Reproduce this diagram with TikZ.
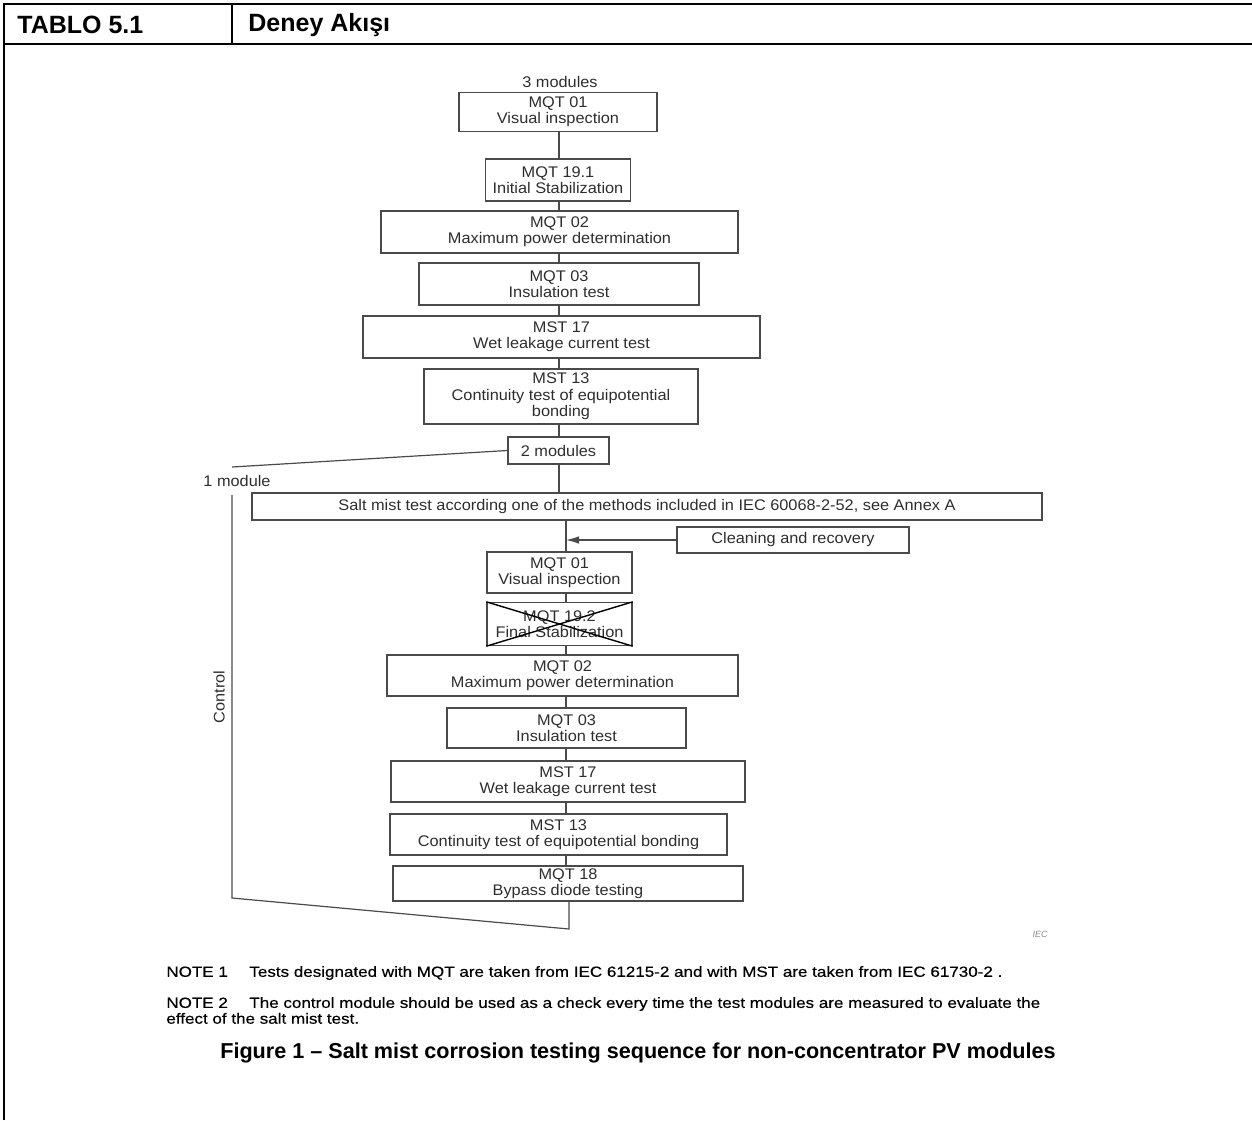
\documentclass[tikz,border=0pt]{standalone}
\usepackage{fontspec}
\setmainfont{Liberation Sans}
\newfontfamily\diagfont[FakeStretch=1.06]{Liberation Sans}
\newfontfamily\notefont[FakeStretch=1.15,FakeBold=0.4]{Liberation Sans}
\usetikzlibrary{arrows.meta}
\definecolor{boxline}{HTML}{4A4A4A}
\definecolor{boxtext}{HTML}{2E2E2E}
\definecolor{faint}{HTML}{8C8C8C}
\newcommand{\notetag}[1]{\makebox[41.5pt][l]{#1}}

\begin{document}
\begin{tikzpicture}[x=0.5pt,y=-0.5pt,
  box/.style={draw=boxline,line width=0.7pt,text=boxtext,align=center,inner sep=0pt,
    font=\diagfont\fontsize{7.7}{8.2}\selectfont},
  link/.style={boxline,line width=0.6pt},
  lbl/.style={text=boxtext,inner sep=0pt,font=\diagfont\fontsize{7.7}{8.2}\selectfont},
  frame/.style={black,line width=1.2pt},
  head/.style={anchor=west,inner sep=0pt,font=\fontsize{12.5}{14}\bfseries\selectfont},
  note/.style={anchor=west,align=left,inner sep=0pt,font=\notefont\fontsize{7.4}{6.5}\selectfont}]
  \useasboundingbox (0,0) rectangle (1252,1120);
  % table frame and header
  \draw[frame] (4,1120) -- (4,4) -- (1252,4);
  \draw[frame] (4,44) -- (1252,44);
  \draw[frame] (232,4) -- (232,44);
  \node[head] (tablo) at (17,25) {TABLO 5.1};
  \node[head] (deney) at (248,25) {Deney Akışı};
  % spines
  \coordinate (up) at (559,0);
  \coordinate (low) at (566,0);
  % before the salt mist test
  \node[lbl] (three) at (560,82) {3 modules};
  \node[box,minimum width=99pt,minimum height=19.5pt] (vis1) at (558,112) {MQT 01\\Visual inspection};
  \node[box,minimum width=72.5pt,minimum height=21pt] (stab1) at (558,180) {MQT 19.1\\Initial Stabilization};
  \node[box,minimum width=178.5pt,minimum height=21pt] (pmax1) at (559.5,232) {MQT 02\\Maximum power determination};
  \node[box,minimum width=140pt,minimum height=21pt] (insul1) at (559,284) {MQT 03\\Insulation test};
  \node[box,minimum width=198.5pt,minimum height=21pt] (wet1) at (561.5,337) {MST 17\\Wet leakage current test};
  \node[box,minimum width=137pt,minimum height=27.5pt] (bond1) at (561,396.5) {MST 13\\Continuity test of equipotential\\bonding};
  \node[box,minimum width=50.5pt,minimum height=13.5pt] (split) at (558.5,450.5) {2 modules};
  \foreach \a/\b in {vis1/stab1,stab1/pmax1,pmax1/insul1,insul1/wet1,wet1/bond1,bond1/split}
    \draw[link] (\a.south -| up) -- (\b.north -| up);
  % salt mist
  \node[box,minimum width=395pt,minimum height=13.5pt] (salt) at (647,506.5)
    {Salt mist test according one of the methods included in IEC 60068-2-52, see Annex A};
  \draw[link] (split.south -| up) -- (salt.north -| up);
  \node[box,minimum width=116pt,minimum height=13pt] (clean) at (793,540) {Cleaning and recovery};
  % after the salt mist test
  \node[box,minimum width=72.5pt,minimum height=20.5pt] (vis2) at (559.5,572.5) {MQT 01\\Visual inspection};
  \node[box,minimum width=72.5pt,minimum height=21.5pt] (stab2) at (559.5,624) {MQT 19.2\\Final Stabilization};
  \draw[black,line width=0.7pt] (stab2.north west) -- (stab2.south east)
    (stab2.south west) -- (stab2.north east);
  \node[box,minimum width=175.5pt,minimum height=20.5pt] (pmax2) at (562.5,675.5) {MQT 02\\Maximum power determination};
  \node[box,minimum width=119.5pt,minimum height=20pt] (insul2) at (566.5,728) {MQT 03\\Insulation test};
  \node[box,minimum width=177pt,minimum height=20.5pt] (wet2) at (568,781.5) {MST 17\\Wet leakage current test};
  \node[box,minimum width=168.5pt,minimum height=20.5pt] (bond2) at (558.5,834.5) {MST 13\\Continuity test of equipotential bonding};
  \node[box,minimum width=175pt,minimum height=17.5pt] (bypass) at (568,883.5) {MQT 18\\Bypass diode testing};
  \draw[link] (salt.south -| low) -- (vis2.north -| low);
  \draw[link,-{Latex[length=6.5pt,width=3.8pt]}] (clean.west) -- (clean.west -| low);
  \foreach \a/\b in {vis2/stab2,stab2/pmax2,pmax2/insul2,insul2/wet2,wet2/bond2,bond2/bypass}
    \draw[link] (\a.south -| low) -- (\b.north -| low);
  % control module
  \coordinate (branch) at (232,467);
  \coordinate (ctop) at (232,495);
  \coordinate (cbot) at (232,898);
  \coordinate (join) at (569,929);
  \node[lbl] (one) at (237,481) {1 module};
  \node[lbl,rotate=90] (control) at (219,697) {Control};
  \draw[link] (split.west) -- (branch);
  \draw[link] (ctop) -- (cbot) -- (join) -- (join |- bypass.south);
  \node[text=faint,inner sep=0pt,font=\fontsize{4.5}{5}\itshape\selectfont] (iec) at (1040,934) {IEC};
  % notes and caption
  \node[note] (note1) at (166,973) {\notetag{NOTE 1}Tests designated with MQT are taken from IEC 61215-2 and with MST are taken from IEC 61730-2 .};
  \node[note] (note2) at (166,1010.5) {\notetag{NOTE 2}The control module should be used as a check every time the test modules are measured to evaluate the\\effect of the salt mist test.};
  \node[inner sep=0pt,font=\fontsize{10.8}{12}\bfseries\selectfont] (caption) at (638,1053)
    {Figure 1 – Salt mist corrosion testing sequence for non-concentrator PV modules};
\end{tikzpicture}
\end{document}
